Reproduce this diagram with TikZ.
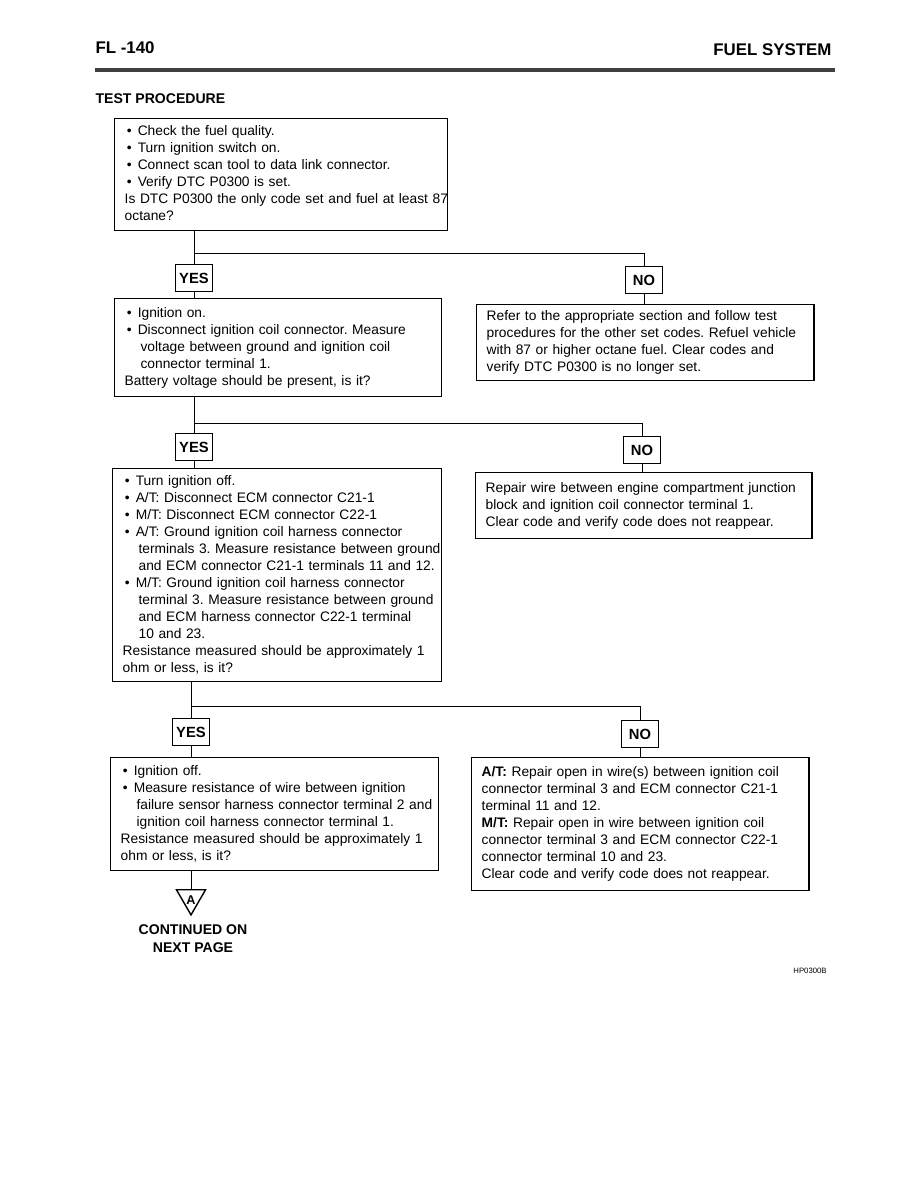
\documentclass[tikz,border=0pt]{standalone}
\usepackage{fontspec}
\setmainfont{Liberation Sans}
\usetikzlibrary{positioning, shapes.geometric}
\frenchspacing
\newcommand{\body}{\fontsize{9.8}{12.1}\selectfont}
\newcommand{\bul}{\hspace*{1.5pt}\makebox[7.8pt][l]{\textbullet}}
\newcommand{\hang}{\hspace*{11.3pt}}
\newcommand{\lines}[1]{\begin{tabular}{@{}l@{}}#1\end{tabular}}
\tikzset{
  every picture/.style={line width=0.8pt},
  box/.style={draw, line width=1pt, anchor=north west, align=left, text width=#1, inner xsep=0.25cm, inner ysep=0pt, font=\body},
  yn/.style={draw, line width=1pt, font=\fontsize{10.5}{12}\selectfont\bfseries, minimum width=0.92cm, minimum height=0.67cm, inner sep=0pt},
  wire/.style={draw, line width=0.7pt},
  head/.style={font=\fontsize{12}{14}\selectfont\bfseries, inner sep=0pt},
  heading/.style={font=\fontsize{10}{13}\selectfont\bfseries, inner sep=0pt, align=center},
}
\begin{document}
\begin{tikzpicture}[x={(0.025cm,0)}, y={(0,-0.025cm)}]
  \useasboundingbox (0,0) rectangle (918,1188);
  % page header
  \node[head, anchor=west] (page) at (95,48) {FL -140};
  \node[head, anchor=east] (sect) at (832,50) {FUEL SYSTEM};
  \draw[line width=2.2pt, black!75] (95,70) -- (835,70);
  \node[heading, anchor=west] (title) at (95,99) {TEST PROCEDURE};

  % step 1
  \node[box=7.825cm, minimum height=2.8cm] (q1) at (114,118) {\lines{%
    \bul Check the fuel quality.\\
    \bul Turn ignition switch on.\\
    \bul Connect scan tool to data link connector.\\
    \bul Verify DTC P0300 is set.\\
    Is DTC P0300 the only code set and fuel at least 87\\
    octane?}};
  \node[yn] (yes1) at (194,278) {YES};
  \node[yn] (no1) at (644,280) {NO};
  \coordinate (j1) at (yes1 |- 0,253);

  % step 2
  \node[box=7.675cm, minimum height=2.45cm] (q2) at (114,298) {\lines{%
    \bul Ignition on.\\
    \bul Disconnect ignition coil connector. Measure\\
    \hang voltage between ground and ignition coil\\
    \hang connector terminal 1.\\
    Battery voltage should be present, is it?}};
  \node[box=7.925cm, minimum height=1.9cm] (fix2) at (476,304) {\lines{%
    Refer to the appropriate section and follow test\\
    procedures for the other set codes. Refuel vehicle\\
    with 87 or higher octane fuel. Clear codes and\\
    verify DTC P0300 is no longer set.}};
  \node[yn] (yes2) at (194,447) {YES};
  \node[yn] (no2) at (642,450) {NO};
  \coordinate (j2) at (yes2 |- 0,423);

  % step 3
  \node[box=7.725cm, minimum height=5.325cm] (q3) at (112,468) {\lines{%
    \bul Turn ignition off.\\
    \bul A/T: Disconnect ECM connector C21-1\\
    \bul M/T: Disconnect ECM connector C22-1\\
    \bul A/T: Ground ignition coil harness connector\\
    \hang terminals 3. Measure resistance between ground\\
    \hang and ECM connector C21-1 terminals 11 and 12.\\
    \bul M/T: Ground ignition coil harness connector\\
    \hang terminal 3. Measure resistance between ground\\
    \hang and ECM harness connector C22-1 terminal\\
    \hang 10 and 23.\\
    Resistance measured should be approximately 1\\
    ohm or less, is it?}};
  \node[box=7.9cm, minimum height=1.65cm] (fix3) at (475,472) {\lines{%
    Repair wire between engine compartment junction\\
    block and ignition coil connector terminal 1.\\
    Clear code and verify code does not reappear.}};
  \node[yn] (yes3) at (191,732) {YES};
  \node[yn] (no3) at (640,734) {NO};
  \coordinate (j3) at (yes3 |- 0,706);

  % step 4
  \node[box=7.7cm, minimum height=2.825cm] (q4) at (110,757) {\lines{%
    \bul Ignition off.\\
    \bul Measure resistance of wire between ignition\\
    \hang failure sensor harness connector terminal 2 and\\
    \hang ignition coil harness connector terminal 1.\\
    Resistance measured should be approximately 1\\
    ohm or less, is it?}};
  \node[box=7.925cm, minimum height=3.325cm] (fix4) at (471,757) {\lines{%
    \textbf{A/T:} Repair open in wire(s) between ignition coil\\
    connector terminal 3 and ECM connector C21-1\\
    terminal 11 and 12.\\
    \textbf{M/T:} Repair open in wire between ignition coil\\
    connector terminal 3 and ECM connector C22-1\\
    connector terminal 10 and 23.\\
    Clear code and verify code does not reappear.}};
  \node[draw, line width=1pt, regular polygon, regular polygon sides=3, shape border rotate=180,
    minimum size=0.84cm, inner sep=0pt, anchor=north] (tri) at (191,889) {};
  \node[inner sep=0pt, font=\fontsize{9}{10}\selectfont\bfseries] (mark) at ([yshift=-1.6pt]tri.center) {A};
  \node[heading] (cont) at (193,939) {CONTINUED ON\\NEXT PAGE};
  \node[font=\fontsize{5.5}{6}\selectfont, inner sep=0pt] (code) at (810,971) {HP0300B};

  % connectors
  \draw[wire] (q1.south -| yes1) -- (yes1.north);
  \draw[wire] (j1) -| (no1.north);
  \draw[wire] (yes1.south) -- (yes1 |- q2.north);
  \draw[wire] (no1.south) -- (no1 |- fix2.north);
  \draw[wire] (q2.south -| yes2) -- (yes2.north);
  \draw[wire] (j2) -| (no2.north);
  \draw[wire] (yes2.south) -- (yes2 |- q3.north);
  \draw[wire] (no2.south) -- (no2 |- fix3.north);
  \draw[wire] (q3.south -| yes3) -- (yes3.north);
  \draw[wire] (j3) -| (no3.north);
  \draw[wire] (yes3.south) -- (yes3 |- q4.north);
  \draw[wire] (no3.south) -- (no3 |- fix4.north);
  \draw[wire] (q4.south -| tri) -- (tri.north);
\end{tikzpicture}
\end{document}
